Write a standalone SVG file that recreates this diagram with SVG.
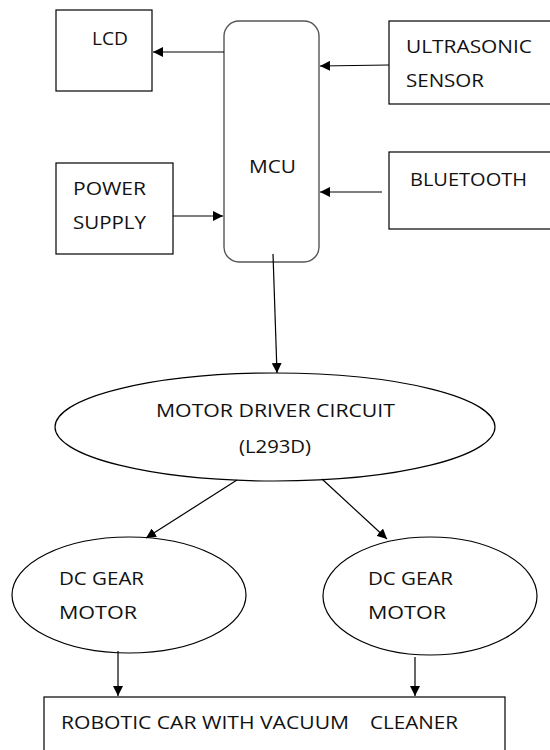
<svg xmlns="http://www.w3.org/2000/svg" width="550" height="750" viewBox="0 0 550 750">
<style>
.b{fill:#fff;stroke:#000;stroke-width:1.2}
.m{fill:#fff;stroke:#555;stroke-width:1.4}
.c{fill:none;stroke:#000;stroke-width:1.2}
text{font-family:"Open Sans","Liberation Sans",sans-serif;font-size:18px;fill:#111}
</style>
<defs>
<marker id="a" viewBox="0 0 10 10" refX="10" refY="5" markerWidth="10" markerHeight="10" markerUnits="userSpaceOnUse" orient="auto">
<path d="M0,0 L10,5 L0,10 Z" fill="#000"/>
</marker>
</defs>
<rect width="550" height="750" fill="#fff"/>
<g id="lcd"><rect class="b" x="56" y="10" width="96" height="81"/><text x="92" y="45" textLength="36" lengthAdjust="spacingAndGlyphs">LCD</text></g>
<g id="mcu"><rect class="m" x="224" y="21" width="95" height="241" rx="15"/><text x="249" y="173" textLength="47" lengthAdjust="spacingAndGlyphs">MCU</text></g>
<g id="ultrasonic"><rect class="b" x="389" y="21" width="170" height="83"/><text x="406" y="53" textLength="126" lengthAdjust="spacingAndGlyphs">ULTRASONIC</text><text x="406" y="87" textLength="78" lengthAdjust="spacingAndGlyphs">SENSOR</text></g>
<g id="bluetooth"><rect class="b" x="389" y="152" width="170" height="77"/><text x="410" y="186" textLength="117" lengthAdjust="spacingAndGlyphs">BLUETOOTH</text></g>
<g id="power"><rect class="b" x="56" y="163" width="117" height="91"/><text x="73" y="195" textLength="73" lengthAdjust="spacingAndGlyphs">POWER</text><text x="73" y="229" textLength="73" lengthAdjust="spacingAndGlyphs">SUPPLY</text></g>
<g id="driver"><ellipse class="b" cx="275" cy="427" rx="220" ry="54"/><text x="156" y="417" textLength="239" lengthAdjust="spacingAndGlyphs">MOTOR DRIVER CIRCUIT</text><text x="239" y="453" textLength="72" lengthAdjust="spacingAndGlyphs">(L293D)</text></g>
<g id="motor1"><ellipse class="b" cx="129" cy="595" rx="117" ry="58"/><text x="59" y="585" textLength="85" lengthAdjust="spacingAndGlyphs">DC GEAR</text><text x="59" y="619" textLength="78" lengthAdjust="spacingAndGlyphs">MOTOR</text></g>
<g id="motor2"><ellipse class="b" cx="430" cy="596" rx="107" ry="59"/><text x="368" y="585" textLength="85" lengthAdjust="spacingAndGlyphs">DC GEAR</text><text x="368" y="619" textLength="78" lengthAdjust="spacingAndGlyphs">MOTOR</text></g>
<g id="car"><rect class="b" x="44" y="697" width="461" height="70"/><text x="61" y="729" textLength="288" lengthAdjust="spacingAndGlyphs">ROBOTIC CAR WITH VACUUM</text><text x="370" y="729" textLength="88" lengthAdjust="spacingAndGlyphs">CLEANER</text></g>
<g id="connectors">
<line class="c" x1="224" y1="52" x2="153" y2="52" marker-end="url(#a)"/>
<line class="c" x1="389" y1="65" x2="320" y2="66" marker-end="url(#a)"/>
<line class="c" x1="382" y1="192" x2="320" y2="192" marker-end="url(#a)"/>
<line class="c" x1="173" y1="216" x2="223" y2="216" marker-end="url(#a)"/>
<line class="c" x1="273" y1="254" x2="277" y2="373" marker-end="url(#a)"/>
<line class="c" x1="237" y1="480" x2="146" y2="538" marker-end="url(#a)"/>
<line class="c" x1="322" y1="479" x2="387" y2="539" marker-end="url(#a)"/>
<line class="c" x1="118" y1="651" x2="118" y2="696" marker-end="url(#a)"/>
<line class="c" x1="415" y1="657" x2="415" y2="696" marker-end="url(#a)"/>
</g>
</svg>
